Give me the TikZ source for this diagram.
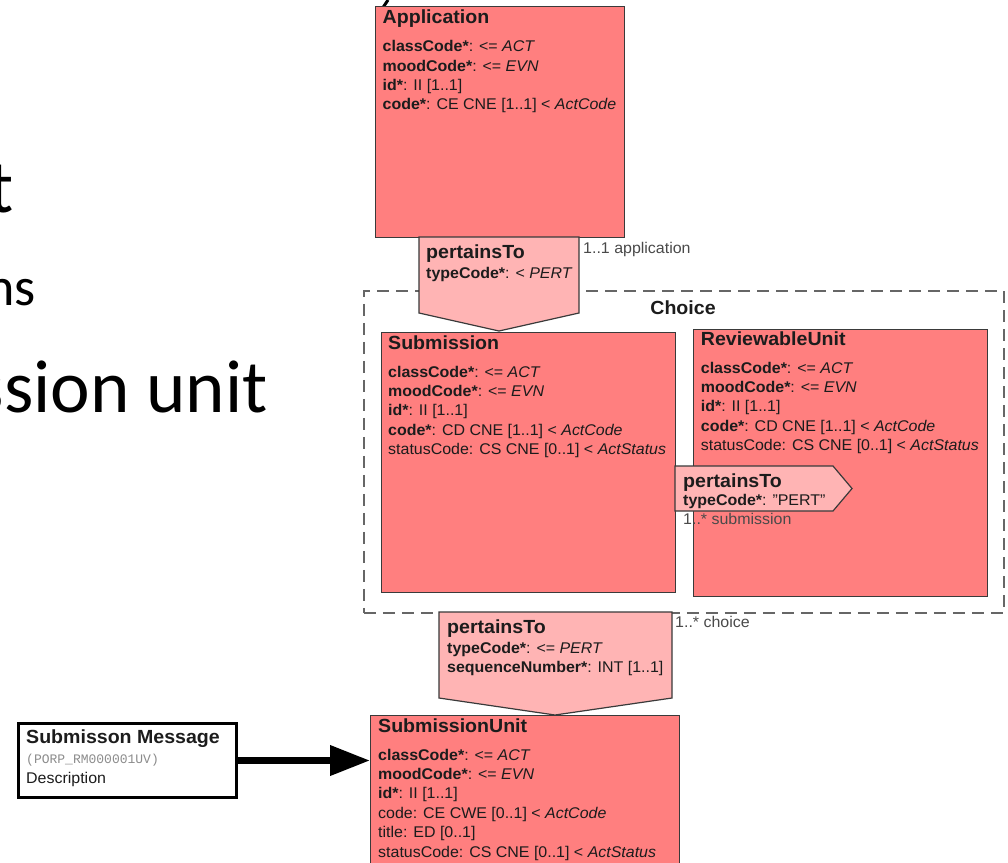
\documentclass[tikz,border=0pt]{standalone}
\usepackage{fontspec}
\setmainfont{Liberation Sans}[FakeStretch=1.03]
\newfontfamily\slidefont{Carlito}
\newfontfamily\msgmono{Liberation Mono}
\usetikzlibrary{arrows.meta}
\definecolor{clsfill}{HTML}{FF7F7F}
\definecolor{relfill}{HTML}{FFB4B4}
\definecolor{edgec}{HTML}{3A3A3A}
\definecolor{txtc}{HTML}{1C1C1C}
\definecolor{lblc}{HTML}{4A4A4A}
\definecolor{dashc}{HTML}{666666}
\tikzset{
  cls/.style={draw=edgec, fill=clsfill, line width=1.2pt, inner sep=0pt, anchor=north west, rectangle},
  relshape/.style={draw=edgec, fill=relfill, line width=1.2pt, line join=miter},
  ttl/.style={anchor=base west, inner sep=0pt, font=\bfseries\fontsize{19}{22}\selectfont, text=txtc},
  attr/.style={anchor=base west, inner sep=0pt, align=left, font=\fontsize{15.5}{19.4}\selectfont, text=txtc},
  lbl/.style={anchor=base west, inner sep=0pt, font=\fontsize{15.5}{19}\selectfont, text=lblc},
  slide/.style={anchor=base east, inner sep=0pt, text=black},
  choicebox/.style={draw=dashc, line width=1.8pt, dash pattern=on 12pt off 7pt, inner sep=0pt, anchor=north west, rectangle}
}
\begin{document}
\begin{tikzpicture}[x=1pt, y=-1pt]
\useasboundingbox (0,0) rectangle (1008,862);
\clip (0,0) rectangle (1008,862);
\fill[white] (0,0) rectangle (1008,862);

% slide text (cut off at the left)
\node[slide, font=\slidefont\fontsize{75}{80}\selectfont] (s1) at (14,212) {t};
\node[slide, font=\slidefont\fontsize{54}{60}\selectfont] (s2) at (36,305) {ns};
\node[slide, font=\slidefont\fontsize{75}{80}\selectfont] (s3) at (268,412) {ssion unit};
\draw[line width=3pt] (382,9) -- (388,0);

% Choice container
\node[choicebox, minimum width=640pt, minimum height=322pt] (choice) at (363,290) {};
\node[anchor=base, inner sep=0pt, font=\bfseries\fontsize{19}{22}\selectfont, text=txtc] (choiceT) at (683,314) {Choice};

% Application (base anchor = baseline of last line)
\node[cls, minimum width=249pt, minimum height=231pt] (app) at (375,6) {};
\node[ttl] (appT) at (382.5,23.5) {Application};
\node[attr] (appA) at (382.5,109.9) {\textbf{classCode*}: <= \textit{ACT}\\\textbf{moodCode*}: <= \textit{EVN}\\\textbf{id*}: II [1..1]\\\textbf{code*}: CE CNE [1..1] < \textit{ActCode}};

% Submission
\node[cls, minimum width=294pt, minimum height=260pt] (sub) at (381,332) {};
\node[ttl] (subT) at (388,349) {Submission};
\node[attr] (subA) at (388,454.6) {\textbf{classCode*}: <= \textit{ACT}\\\textbf{moodCode*}: <= \textit{EVN}\\\textbf{id*}: II [1..1]\\\textbf{code*}: CD CNE [1..1] < \textit{ActCode}\\statusCode: CS CNE [0..1] < \textit{ActStatus}};

% ReviewableUnit
\node[cls, minimum width=294pt, minimum height=267pt] (rev) at (693,329) {};
\node[ttl] (revT) at (700.7,345) {ReviewableUnit};
\node[attr] (revA) at (700.7,450.6) {\textbf{classCode*}: <= \textit{ACT}\\\textbf{moodCode*}: <= \textit{EVN}\\\textbf{id*}: II [1..1]\\\textbf{code*}: CD CNE [1..1] < \textit{ActCode}\\statusCode: CS CNE [0..1] < \textit{ActStatus}};

% SubmissionUnit
\node[cls, minimum width=309pt, minimum height=200pt] (subu) at (370,715) {};
\node[ttl] (subuT) at (378,732) {SubmissionUnit};
\node[attr] (subuA) at (378,857) {\textbf{classCode*}: <= \textit{ACT}\\\textbf{moodCode*}: <= \textit{EVN}\\\textbf{id*}: II [1..1]\\code: CE CWE [0..1] < \textit{ActCode}\\title: ED [0..1]\\statusCode: CS CNE [0..1] < \textit{ActStatus}};

% pertainsTo : Application -> Submission
\draw[relshape] (419,237) -- (579,237) -- (579,313) -- (499,331) -- (419,313) -- cycle;
\node[ttl] (r1T) at (426,258) {pertainsTo};
\node[attr] (r1A) at (426,278) {\textbf{typeCode*}: < \textit{PERT}};
\node[lbl] (r1L) at (583,253) {1..1 application};

% pertainsTo : Submission -> ReviewableUnit
\draw[relshape] (675,466) -- (833,466) -- (852,488.5) -- (833,511) -- (675,511) -- cycle;
\node[ttl] (r2T) at (683,487) {pertainsTo};
\node[attr] (r2A) at (683,505) {\textbf{typeCode*}: "PERT"};
\node[lbl] (r2L) at (683,524) {1..* submission};

% pertainsTo : Choice -> SubmissionUnit
\draw[relshape] (439,612) -- (672,612) -- (672,698) -- (555,715) -- (439,698) -- cycle;
\node[ttl] (r3T) at (447,633) {pertainsTo};
\node[attr] (r3A) at (447,672.4) {\textbf{typeCode*}: <= \textit{PERT}\\\textbf{sequenceNumber*}: INT [1..1]};
\node[lbl] (r3L) at (675,627) {1..* choice};

% Submission message
\node[draw=black, fill=white, line width=3pt, inner sep=0pt, anchor=north west, minimum width=218pt, minimum height=74pt] (msg) at (17,722) {};
\node[ttl] (msgT) at (26,743) {Submisson Message};
\node[anchor=base west, inner sep=0pt, font=\msgmono\fontsize{13}{14}\selectfont, text=black!45] (msgC) at (26,763) {(PORP\_RM000001UV)};
\node[attr] (msgD) at (26,783) {Description};
\draw[line width=7pt, -{Triangle[length=40pt, width=29pt]}] (msg.east) -- (msg.east -| subu.west);
\end{tikzpicture}
\end{document}
